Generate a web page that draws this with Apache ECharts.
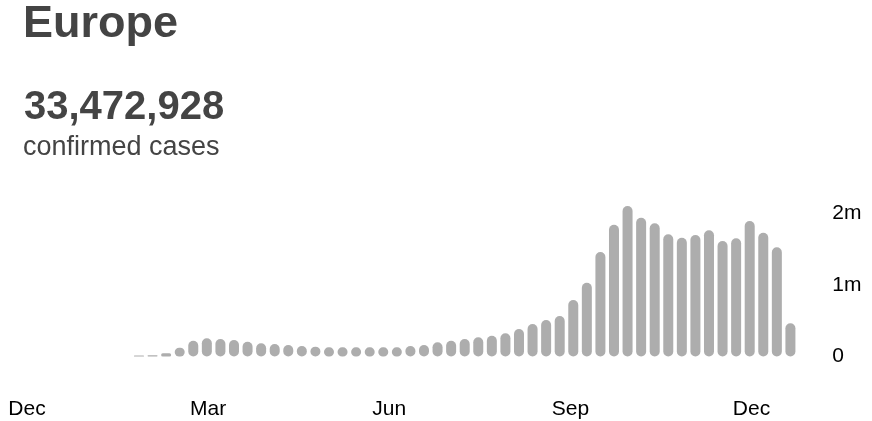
<!DOCTYPE html>
<html>
<head>
<meta charset="utf-8">
<script src="https://cdn.jsdelivr.net/npm/echarts@6/dist/echarts.min.js"></script>
<style>
html,body{margin:0;padding:0;background:#fff;}
#chart{width:872px;height:421px;}
</style>
</head>
<body>
<div id="chart"></div>
<script>
// ---- data ----
const regionName = 'Europe';
const totalCases = '33,472,928';
const totalLabel = 'confirmed cases';
const weeklyCases = [
  14000, 18000, 45000, 123000, 220000, 254000, 244000, 230000, 206000, 184000,
  174000, 160000, 146000, 137000, 128000, 128000, 128000, 128000, 128000, 128000,
  146000, 160000, 198000, 220000, 244000, 268000, 290000, 323000, 383000, 453000,
  509000, 564000, 787000, 1029000, 1456000, 1837000, 2098000, 1934000, 1856000, 1703000,
  1656000, 1693000, 1759000, 1610000, 1647000, 1889000, 1725000, 1522000, 463000
];
const weekCategories = weeklyCases.map((_, i) => 'W' + (i + 1));
const monthCategories = ['Dec','Jan','Feb','Mar','Apr','May','Jun','Jul','Aug','Sep','Oct','Nov','Dec'];
const yTicks = [0, 1000000, 2000000];

const FONT = "'Liberation Sans', Arial, sans-serif";
const chart = echarts.init(document.getElementById('chart'));

const baseY = 356.5;
const pxPerM = 71.75;
const yMax = 3000000;

chart.setOption({
  animation: false,
  backgroundColor: '#fff',
  title: [
    {text: regionName, left: 23, top: 2, padding: 0,
     textStyle: {fontFamily: FONT, fontSize: 45, lineHeight: 45, fontWeight: 'bold', color: '#444'}},
    {text: totalCases, left: 24, top: 88, padding: 0,
     textStyle: {fontFamily: FONT, fontSize: 40, lineHeight: 40, fontWeight: 'bold', color: '#444'}},
    {text: totalLabel, left: 23, top: 134, padding: 0,
     textStyle: {fontFamily: FONT, fontSize: 27, lineHeight: 27, fontWeight: 'normal', color: '#444'}}
  ],
  grid: [
    {left: 132.2, right: 872 - 797.2, top: baseY - pxPerM * 3, bottom: 421 - baseY, outerBoundsMode: 'none'},
    {left: 27, right: 872 - 751.5, bottom: 421 - baseY, height: 10, outerBoundsMode: 'none'}
  ],
  xAxis: [
    {type: 'category', gridIndex: 0, data: weekCategories, boundaryGap: true,
     axisLine: {show: false}, axisTick: {show: false}, axisLabel: {show: false}, splitLine: {show: false}},
    {type: 'category', gridIndex: 1, data: monthCategories, boundaryGap: false,
     axisLine: {show: false}, axisTick: {show: false}, splitLine: {show: false},
     axisLabel: {interval: 2, margin: 42, fontFamily: FONT, fontSize: 21, color: '#000'}}
  ],
  yAxis: [
    {type: 'value', gridIndex: 0, position: 'right', min: 0, max: yMax, interval: 1000000,
     axisLine: {show: false}, axisTick: {show: false}, splitLine: {show: false},
     axisLabel: {show: true, showMaxLabel: false, margin: 35, align: 'left', fontFamily: FONT, fontSize: 21, color: '#000',
       padding: [0, 0, 3, 0],
       formatter: v => (yTicks.indexOf(v) < 0 ? '' : (v === 0 ? '0' : (v / 1000000) + 'm'))}},
    {type: 'value', gridIndex: 1, show: false}
  ],
  series: [{
    type: 'bar', xAxisIndex: 0, yAxisIndex: 0, data: weeklyCases, barWidth: 10,
    itemStyle: {color: '#adadad', borderRadius: 5},
    silent: true
  }]
});
</script>
</body>
</html>
